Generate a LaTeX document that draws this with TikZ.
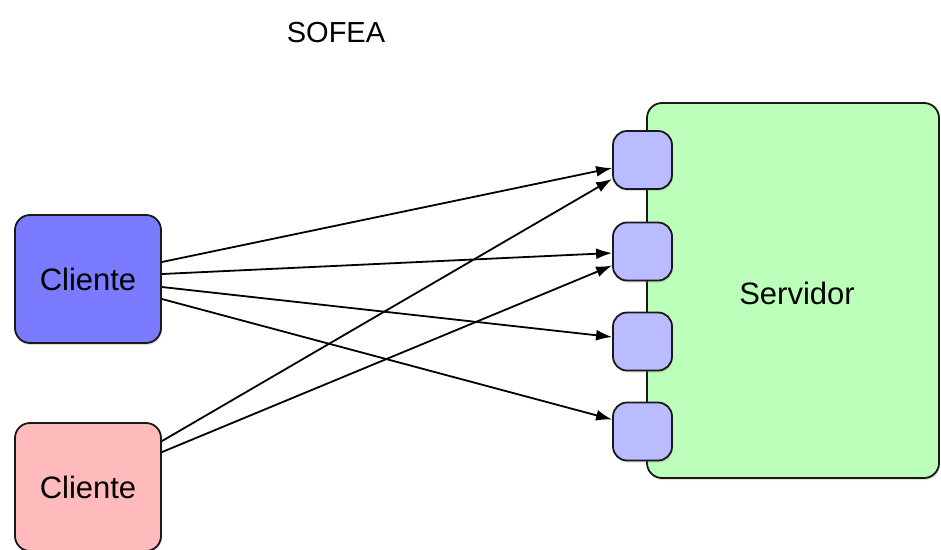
\documentclass[tikz,border=0pt]{standalone}
\usepackage{fontspec}
\setmainfont{Liberation Sans}
\usetikzlibrary{arrows.meta,shadows}
\definecolor{cblue}{RGB}{123,123,255}
\definecolor{cpink}{RGB}{255,187,187}
\definecolor{cgreen}{RGB}{187,255,187}
\definecolor{cport}{RGB}{187,187,255}
\begin{document}
\begin{tikzpicture}[x=1pt,y=-1pt,
  boxstyle/.style={draw=black!90,line width=1.8pt,rounded corners=15pt,inner sep=0pt,
    drop shadow={opacity=0.25,shadow xshift=1pt,shadow yshift=-2pt},
    font=\fontsize{31}{37}\selectfont},
  portstyle/.style={boxstyle,fill=cport,minimum width=59pt,minimum height=58pt,rounded corners=14pt},
  conn/.style={line width=1.8pt,-{Latex[length=16pt,width=11pt]}}]
\useasboundingbox (0,0) rectangle (941,549);
\node[font=\fontsize{29}{35}\selectfont] (title) at (336,33) {SOFEA};
\node[boxstyle,fill=cblue,minimum width=146pt,minimum height=128pt] (c1) at (88,279) {Cliente};
\node[boxstyle,fill=cpink,minimum width=146pt,minimum height=128pt] (c2) at (88,487) {Cliente};
\node[boxstyle,fill=cgreen,minimum width=292pt,minimum height=375pt] (srv) at (793,290.5) {};
\node[font=\fontsize{31}{37}\selectfont] (srvlabel) at (797,293) {Servidor};
\node[portstyle] (p1) at (642.5,160) {};
\node[portstyle] (p2) at (642.5,251.5) {};
\node[portstyle] (p3) at (642.5,341.5) {};
\node[portstyle] (p4) at (642.5,431.5) {};
\draw[conn] ([yshift=17pt]c1.east) -- ([yshift=-8pt]p1.west);
\draw[conn] ([yshift=5pt]c1.east) -- ([yshift=-1.5pt]p2.west);
\draw[conn] ([yshift=-8pt]c1.east) -- ([yshift=4.5pt]p3.west);
\draw[conn] ([yshift=-20pt]c1.east) -- ([yshift=12pt]p4.west);
\draw[conn] ([yshift=-19pt]c2.north east) -- ([yshift=-19pt]p1.west);
\draw[conn] ([yshift=-30pt]c2.north east) -- ([yshift=-14pt]p2.west);
\end{tikzpicture}
\end{document}
